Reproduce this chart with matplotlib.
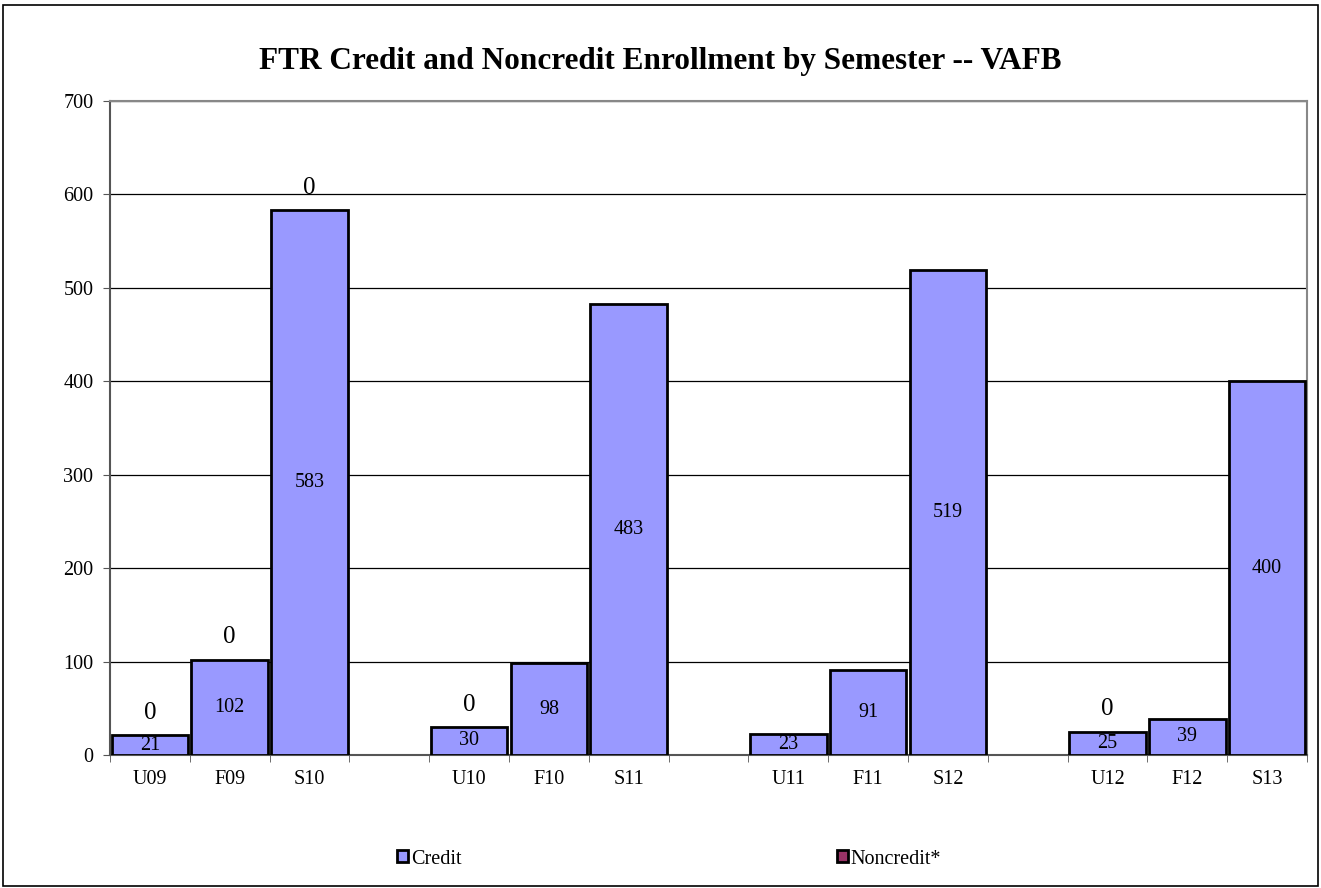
import matplotlib
matplotlib.use("Agg")
import matplotlib.pyplot as plt
from matplotlib.patches import Rectangle, Patch
import numpy as np

categories = ["U09", "F09", "S10", "", "U10", "F10", "S11", "", "U11", "F11", "S12", "", "U12", "F12", "S13"]
credit = [21, 102, 583, None, 30, 98, 483, None, 23, 91, 519, None, 25, 39, 400]
noncredit = [0, 0, 0, None, 0, None, None, None, None, None, None, None, 0, None, None]
yticks = [0, 100, 200, 300, 400, 500, 600, 700]

plt.rcParams['font.family'] = ['Liberation Serif', 'DejaVu Serif']

W, H = 1321, 888
fig = plt.figure(figsize=(W / 100, H / 100), dpi=100)
fig.patches.append(Rectangle((3 / W, 2 / H), (W - 6) / W, (H - 7) / H, transform=fig.transFigure,
                             fill=False, edgecolor='black', linewidth=1.2, zorder=-1))

ax = fig.add_axes([110 / W, 133 / H, 1197 / W, 654 / H])
x = np.arange(len(categories))
cvals = np.array([v if v is not None else 0 for v in credit], dtype=float)
nvals = np.array([v if v is not None else 0 for v in noncredit], dtype=float)
mask = np.array([v is not None for v in credit])

credit_color = '#9999FF'
non_color = '#993366'
ax.bar(x[mask], cvals[mask], width=0.96, color=credit_color, edgecolor='black', linewidth=2, zorder=3)
ax.bar(x[mask], nvals[mask], bottom=cvals[mask], width=0.96, color=non_color, edgecolor='black', linewidth=0, zorder=3)

for xi, c, n in zip(x, credit, noncredit):
    if c is None:
        continue
    ax.text(xi, c / 2, f"{c}", ha='center', va='center', fontsize=14.5, zorder=4)
    if n is not None:
        ax.annotate(f"{n}", xy=(xi, c + n), xytext=(0, 16), textcoords='offset points',
                    ha='center', va='center', fontsize=18, zorder=4)

ax.set_xlim(-0.5, len(categories) - 0.5)
ax.set_ylim(0, 700)
ax.set_yticks(yticks)
ax.set_yticklabels([str(t) for t in yticks], fontsize=14.5)
ax.set_xticks(x)
ax.set_xticklabels(categories, fontsize=14.5)
ax.set_xticks(np.arange(-0.5, len(categories), 1), minor=True)
ax.tick_params(axis='x', which='major', length=0, pad=11)
ax.tick_params(axis='x', which='minor', length=5, direction='out', color='#555555')
ax.tick_params(axis='y', length=5, direction='out', color='#555555', pad=7)
ax.yaxis.grid(True, color='black', linewidth=0.9, zorder=0)
ax.set_axisbelow(True)
for s in ['top', 'right']:
    ax.spines[s].set_color('#888888')
    ax.spines[s].set_linewidth(1.5)
ax.spines['left'].set_color('#555555')
ax.spines['left'].set_linewidth(1.5)
ax.spines['bottom'].set_color('#555555')
ax.spines['bottom'].set_linewidth(1.5)

fig.text(0.5, 1 - 61 / H, "FTR Credit and Noncredit Enrollment by Semester -- VAFB",
         ha='center', va='center', fontsize=22.5, fontweight='bold')

h1 = Patch(facecolor=credit_color, edgecolor='black', linewidth=2)
h2 = Patch(facecolor=non_color, edgecolor='black', linewidth=2)
fig.legend([h1], ["Credit"], loc='center', bbox_to_anchor=(429 / W, 1 - 859 / H), frameon=False,
           fontsize=14.5, handlelength=0.55, handleheight=0.55, handletextpad=0.15)
fig.legend([h2], ["Noncredit*"], loc='center', bbox_to_anchor=(889 / W, 1 - 859 / H), frameon=False,
           fontsize=14.5, handlelength=0.55, handleheight=0.55, handletextpad=0.15)

fig.savefig("out.png", dpi=100)
